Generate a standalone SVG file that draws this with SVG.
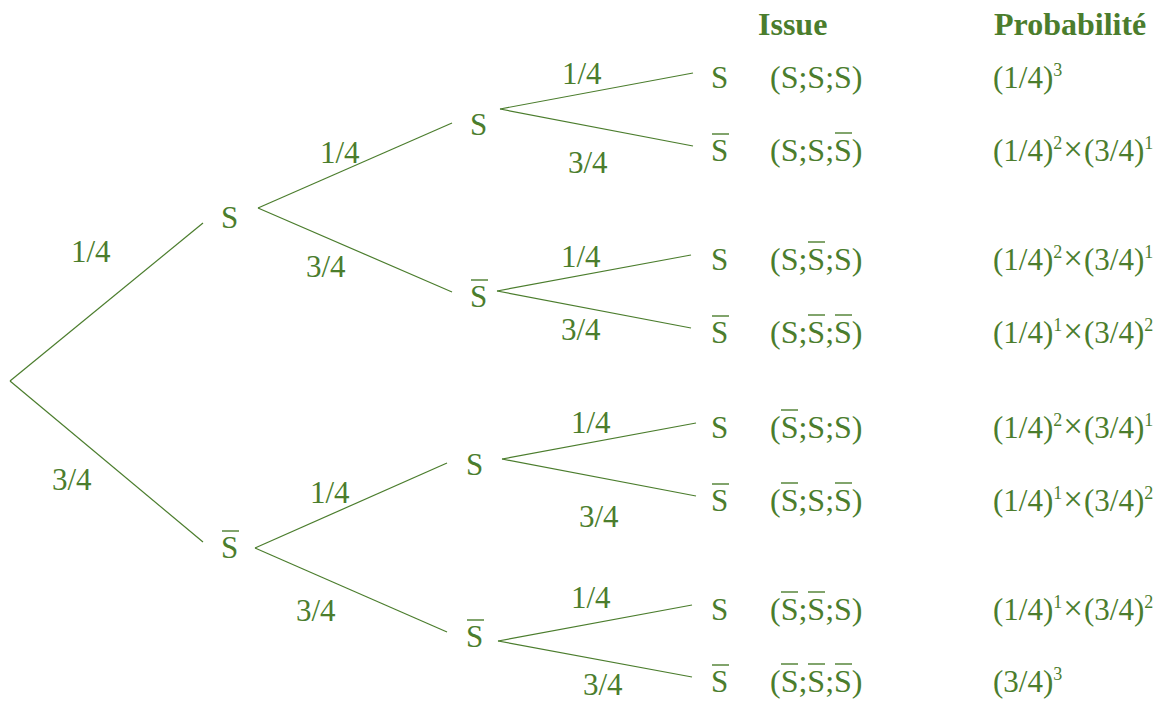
<svg xmlns="http://www.w3.org/2000/svg" width="1170" height="701" viewBox="0 0 1170 701">
<style>
text{font-family:"Liberation Serif","Times New Roman",serif;fill:#4b7d2d;font-size:31px}
.h{font-weight:bold;font-size:32px}
.is{font-size:32px}
.sup{font-size:18px}
.x{font-size:35px}
.e{stroke:#4b7d2d;stroke-width:1.2;fill:none}
.ol{stroke:#4b7d2d;stroke-width:1.4}
</style>
<rect width="1170" height="701" fill="#ffffff"/>
<g id="connectors">
<line class="e" x1="10" y1="381" x2="203" y2="223"/>
<line class="e" x1="10" y1="381" x2="203" y2="542"/>
<line class="e" x1="258" y1="208" x2="452" y2="123"/>
<line class="e" x1="258" y1="208" x2="452" y2="292"/>
<line class="e" x1="255" y1="548" x2="447" y2="463"/>
<line class="e" x1="255" y1="548" x2="447" y2="632"/>
<line class="e" x1="500" y1="109" x2="693" y2="73"/>
<line class="e" x1="500" y1="109" x2="693" y2="146"/>
<line class="e" x1="497" y1="291" x2="691" y2="255"/>
<line class="e" x1="497" y1="291" x2="691" y2="328"/>
<line class="e" x1="502" y1="459" x2="696" y2="423"/>
<line class="e" x1="502" y1="459" x2="696" y2="496"/>
<line class="e" x1="498" y1="641" x2="692" y2="605"/>
<line class="e" x1="498" y1="641" x2="692" y2="677"/>
<text x="71" y="262">1/4</text>
<text x="52" y="490">3/4</text>
<text x="320" y="163">1/4</text>
<text x="306" y="277">3/4</text>
<text x="310" y="503">1/4</text>
<text x="296" y="621">3/4</text>
<text x="562" y="84">1/4</text>
<text x="568" y="173">3/4</text>
<text x="561" y="267">1/4</text>
<text x="561" y="340">3/4</text>
<text x="571" y="433">1/4</text>
<text x="579" y="527">3/4</text>
<text x="571" y="608">1/4</text>
<text x="583" y="695">3/4</text>
</g>
<g id="headers">
<text class="h" x="758" y="35">Issue</text>
<text class="h" x="994" y="35">Probabilité</text>
</g>
<g id="n1"><text x="221" y="228">S</text></g>
<g id="n2"><text x="221" y="558">S</text><line class="ol" x1="222" y1="531" x2="239" y2="531"/></g>
<g id="n11"><text x="470" y="135">S</text></g>
<g id="n12"><text x="470" y="307">S</text><line class="ol" x1="471" y1="280" x2="488" y2="280"/></g>
<g id="n21"><text x="466" y="475">S</text></g>
<g id="n22"><text x="466" y="647">S</text><line class="ol" x1="467" y1="620" x2="484" y2="620"/></g>
<g id="leaf1"><text x="711" y="88">S</text><text class="is" x="770" y="88">(S;S;S)</text><text x="993" y="88">(1/4)<tspan class="sup" dy="-12">3</tspan></text></g>
<g id="leaf2"><text x="711" y="161">S</text><line class="ol" x1="712" y1="134" x2="729" y2="134"/><text class="is" x="770" y="161">(S;S;S)</text><line class="ol" x1="835" y1="133" x2="852" y2="133"/><text x="993" y="161">(1/4)<tspan class="sup" dy="-12">2</tspan><tspan class="x" dx="1" dy="12">×</tspan><tspan dx="1">(3/4)</tspan><tspan class="sup" dy="-12">1</tspan></text></g>
<g id="leaf3"><text x="711" y="270">S</text><text class="is" x="770" y="270">(S;S;S)</text><line class="ol" x1="808" y1="242" x2="825" y2="242"/><text x="993" y="270">(1/4)<tspan class="sup" dy="-12">2</tspan><tspan class="x" dx="1" dy="12">×</tspan><tspan dx="1">(3/4)</tspan><tspan class="sup" dy="-12">1</tspan></text></g>
<g id="leaf4"><text x="711" y="343">S</text><line class="ol" x1="712" y1="316" x2="729" y2="316"/><text class="is" x="770" y="343">(S;S;S)</text><line class="ol" x1="808" y1="315" x2="825" y2="315"/><line class="ol" x1="835" y1="315" x2="852" y2="315"/><text x="993" y="343">(1/4)<tspan class="sup" dy="-12">1</tspan><tspan class="x" dx="1" dy="12">×</tspan><tspan dx="1">(3/4)</tspan><tspan class="sup" dy="-12">2</tspan></text></g>
<g id="leaf5"><text x="711" y="438">S</text><text class="is" x="770" y="438">(S;S;S)</text><line class="ol" x1="781" y1="410" x2="798" y2="410"/><text x="993" y="438">(1/4)<tspan class="sup" dy="-12">2</tspan><tspan class="x" dx="1" dy="12">×</tspan><tspan dx="1">(3/4)</tspan><tspan class="sup" dy="-12">1</tspan></text></g>
<g id="leaf6"><text x="711" y="511">S</text><line class="ol" x1="712" y1="484" x2="729" y2="484"/><text class="is" x="770" y="511">(S;S;S)</text><line class="ol" x1="781" y1="483" x2="798" y2="483"/><line class="ol" x1="835" y1="483" x2="852" y2="483"/><text x="993" y="511">(1/4)<tspan class="sup" dy="-12">1</tspan><tspan class="x" dx="1" dy="12">×</tspan><tspan dx="1">(3/4)</tspan><tspan class="sup" dy="-12">2</tspan></text></g>
<g id="leaf7"><text x="711" y="620">S</text><text class="is" x="770" y="620">(S;S;S)</text><line class="ol" x1="781" y1="592" x2="798" y2="592"/><line class="ol" x1="808" y1="592" x2="825" y2="592"/><text x="993" y="620">(1/4)<tspan class="sup" dy="-12">1</tspan><tspan class="x" dx="1" dy="12">×</tspan><tspan dx="1">(3/4)</tspan><tspan class="sup" dy="-12">2</tspan></text></g>
<g id="leaf8"><text x="711" y="692">S</text><line class="ol" x1="712" y1="665" x2="729" y2="665"/><text class="is" x="770" y="692">(S;S;S)</text><line class="ol" x1="781" y1="664" x2="798" y2="664"/><line class="ol" x1="808" y1="664" x2="825" y2="664"/><line class="ol" x1="835" y1="664" x2="852" y2="664"/><text x="993" y="692">(3/4)<tspan class="sup" dy="-12">3</tspan></text></g>
</svg>
